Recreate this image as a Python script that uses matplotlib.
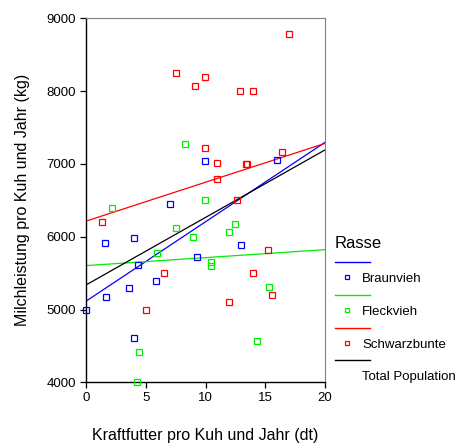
import matplotlib
matplotlib.use('Agg')
import matplotlib.pyplot as plt
from matplotlib.lines import Line2D

plt.rcParams['font.family'] = ['Liberation Sans', 'DejaVu Sans']

# Daten
braun_x = [0.03, 1.56, 1.64, 3.56, 4.03, 4.03, 4.31, 5.89, 7.0, 9.28, 9.97, 13.0, 15.97]
braun_y = [5000, 5908, 5178, 5301, 5986, 4603, 5611, 5397, 6456, 5721, 7045, 5885, 7055]

fleck_x = [2.14, 4.25, 4.42, 5.98, 7.53, 8.3, 8.98, 9.97, 10.45, 10.45, 12.0, 12.45, 14.28, 15.34]
fleck_y = [6397, 4000, 4411, 5781, 6118, 7278, 5995, 6500, 5648, 5597, 6059, 6178, 4566, 5315]

schwarz_x = [1.31, 5.03, 6.5, 7.53, 9.14, 9.97, 9.97, 11.0, 11.0, 11.98, 12.6, 12.9,
             13.4, 13.5, 13.98, 14.0, 15.2, 15.56, 16.4, 16.98]
schwarz_y = [6196, 5000, 5497, 8247, 8073, 8192, 7214, 7018, 6795, 5100, 6500, 7995,
             6995, 6995, 5497, 7995, 5822, 5205, 7164, 8789]

rassen = ['Braunvieh', 'Fleckvieh', 'Schwarzbunte', 'Total Population']
farben = ['#0000ff', '#00ee00', '#ff0000', '#000000']

# Regressionsgeraden: Wert bei x=0 und bei x=20
fit_x = [0, 20]
fit_start = [5114, 5603, 6214, 5337]
fit_end = [7296, 5822, 7282, 7192]

fig = plt.figure(figsize=(4.6, 4.43), dpi=100)
ax = fig.add_axes([86 / 460, 1 - 382.3 / 443, (325 - 86) / 460, (382.3 - 18.3) / 443])

gruppen = [(braun_x, braun_y), (fleck_x, fleck_y), (schwarz_x, schwarz_y)]
for (gx, gy), c in zip(gruppen, farben[:3]):
    ax.plot(gx, gy, linestyle='none', marker='s', markersize=4.2,
            markerfacecolor='none', markeredgecolor=c, markeredgewidth=0.9,
            clip_on=False, zorder=3)

for s, e, c in zip(fit_start, fit_end, farben):
    ax.plot(fit_x, [s, e], color=c, linewidth=0.9, zorder=2)

ax.set_xlim(0, 20)
ax.set_ylim(4000, 9000)
ax.set_xticks([0, 5, 10, 15, 20])
ax.set_yticks([4000, 5000, 6000, 7000, 8000, 9000])
ax.tick_params(direction='out', length=4, width=0.9, labelsize=9.5, pad=3, color='black')
ax.spines['top'].set_color('#808080')
ax.spines['right'].set_color('#808080')
for sp in ['left', 'bottom']:
    ax.spines[sp].set_linewidth(1.0)

ax.set_xlabel('Kraftfutter pro Kuh und Jahr (dt)', fontsize=11.5, labelpad=17)
ax.set_ylabel('Milchleistung pro Kuh und Jahr (kg)', fontsize=11.5, labelpad=12)

# Legende von Hand, wie im SPSS-Original
def px(x, y):
    return x / 460, 1 - y / 443

fig.text(*px(335, 244), 'Rasse', fontsize=12, va='center', ha='left')
for i, (name, c) in enumerate(zip(rassen, farben)):
    y_line = 262.3 + i * 32.6
    y_mark = y_line + 15
    x0, y0 = px(335, y_line)
    x1, _ = px(370, y_line)
    fig.add_artist(Line2D([x0, x1], [y0, y0], color=c, linewidth=1.0,
                          transform=fig.transFigure))
    if i < 3:
        mx, my = px(347, y_mark)
        fig.add_artist(Line2D([mx], [my], marker='s', markersize=3.5,
                              markerfacecolor='none', markeredgecolor=c,
                              markeredgewidth=0.9, transform=fig.transFigure))
    fig.text(*px(362, y_mark + 2), name, fontsize=9.5, va='center', ha='left')

fig.savefig('out.png', dpi=100)
